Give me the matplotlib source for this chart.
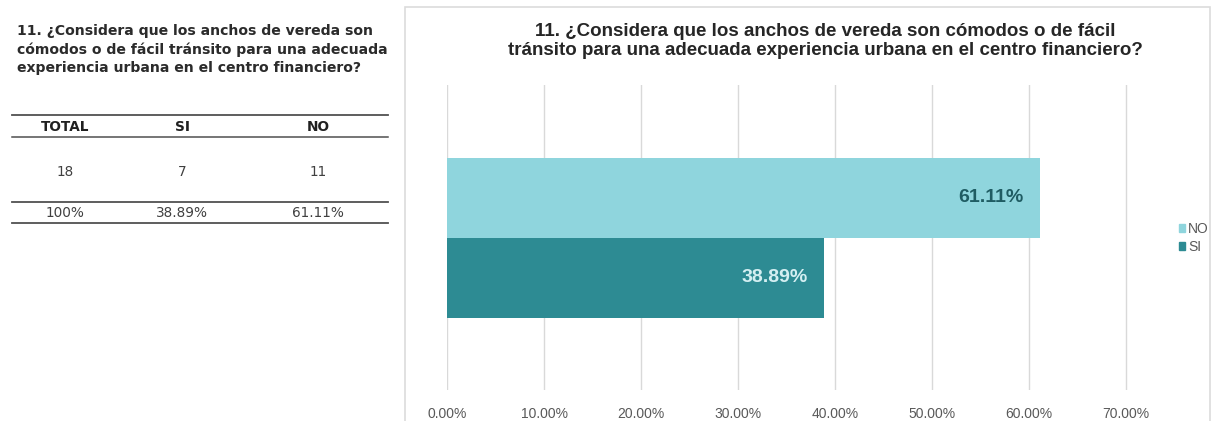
import matplotlib
matplotlib.use("Agg")
import matplotlib.pyplot as plt
from matplotlib.patches import Rectangle, Patch
from matplotlib.lines import Line2D
from matplotlib.ticker import PercentFormatter

# Survey data: question 11
question = ("11. ¿Considera que los anchos de vereda son\n"
            "cómodos o de fácil tránsito para una adecuada\n"
            "experiencia urbana en el centro financiero?")
chart_title = ("11. ¿Considera que los anchos de vereda son cómodos o de fácil\n"
               "tránsito para una adecuada experiencia urbana en el centro financiero?")
table_headers = ["TOTAL", "SI", "NO"]
counts = [18, 7, 11]
shares = [100.0, 38.89, 61.11]
series = ["NO", "SI"]
series_values = [0.6111, 0.3889]
x_ticks = [0.0, 0.1, 0.2, 0.3, 0.4, 0.5, 0.6, 0.7]

W, H = 1213, 421
ARIAL = ["Liberation Sans", "DejaVu Sans"]
WIDE = ["DejaVu Sans"]
C_NO = "#8fd5dd"
C_SI = "#2d8b93"
GREY = "#595959"


def fx(x):
    return x / W


def fy(y):
    return 1 - y / H


fig = plt.figure(figsize=(W / 100, H / 100), dpi=100)
fig.patch.set_facecolor("white")

# ── left block: question + summary table ──
fig.text(fx(17), fy(24), question, ha="left", va="top", fontsize=10.1,
         fontweight="bold", color="#2b2b2b", family=WIDE, linespacing=1.38)

for y, lw in [(115, 1.3), (137, 1.1), (202, 1.3), (223, 1.3)]:
    fig.add_artist(Line2D([fx(12), fx(388)], [fy(y), fy(y)], color="#505050", lw=lw))

col_x = [65, 182, 318]
for cx, head, n, s in zip(col_x, table_headers, counts, shares):
    fig.text(fx(cx), fy(127), head, ha="center", va="center", fontsize=9.8,
             fontweight="bold", color="#202020", family=WIDE)
    fig.text(fx(cx), fy(172), str(n), ha="center", va="center", fontsize=9.8,
             color="#404040", family=WIDE)
    pct = "100%" if s == 100.0 else f"{s:.2f}%"
    fig.text(fx(cx), fy(213), pct, ha="center", va="center", fontsize=9.8,
             color="#404040", family=WIDE)

# ── chart panel ──
fig.add_artist(Rectangle((fx(405), fy(425)), fx(1210) - fx(405), fy(7) - fy(425),
                         fill=False, edgecolor="#dcdcdc", lw=1.2))

fig.text(fx(825), fy(23), chart_title, ha="center", va="top", fontsize=13.5,
         fontweight="bold", color="#262626", family=ARIAL, linespacing=1.12)

ax = fig.add_axes([fx(447), fy(390), fx(1128) - fx(447), fy(85) - fy(390)])
bar_h = 80 / 305
offsets = [bar_h / 2, -bar_h / 2]
colors = [C_NO, C_SI]
label_colors = ["#1f5c63", "#d4eff2"]
for name, val, off, c, lc in zip(series, series_values, offsets, colors, label_colors):
    ax.barh(off, val, height=bar_h, color=c, label=name, zorder=3)
    ax.text(val - 0.017, off, f"{val * 100:.2f}%", ha="right", va="center",
            fontsize=14, fontweight="bold", color=lc, family=ARIAL, zorder=4)

ax.set_xlim(0, 0.702)
ax.set_ylim(-0.5, 0.5)
ax.set_xticks(x_ticks)
ax.xaxis.set_major_formatter(PercentFormatter(xmax=1, decimals=2))
ax.set_yticks([])
ax.grid(axis="x", color="#d9d9d9", lw=1, zorder=0)
for sp in ax.spines.values():
    sp.set_visible(False)
ax.tick_params(axis="x", length=0, pad=12, labelsize=10, labelcolor=GREY)
for lab in ax.get_xticklabels():
    lab.set_family(ARIAL)

handles = [Patch(color=C_NO), Patch(color=C_SI)]
fig.legend(handles, series, loc="center left", bbox_to_anchor=(fx(1166), fy(238)),
           frameon=False, handlelength=0.5, handleheight=0.5, handletextpad=0.2,
           labelspacing=0.3, prop={"family": ARIAL, "size": 10}, labelcolor=GREY)

fig.savefig("out.png", dpi=100)
